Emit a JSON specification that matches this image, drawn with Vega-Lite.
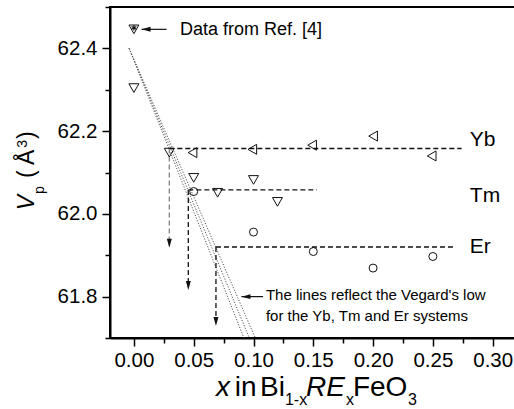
{
  "$schema": "https://vega.github.io/schema/vega-lite/v6.json",
  "width": 406,
  "height": 331,
  "autosize": "none",
  "padding": {"left": 110, "top": 7, "right": 0, "bottom": 71},
  "background": "white",
  "config": {
    "view": {"stroke": "black", "strokeWidth": 2},
    "text": {"font": "Liberation Sans", "color": "black"},
    "axis": {
      "grid": false,
      "title": null,
      "domainColor": "black",
      "domainWidth": 2,
      "tickColor": "black",
      "tickWidth": 1.5,
      "labelFont": "Liberation Sans",
      "labelFontSize": 20.5,
      "labelColor": "black",
      "labelOverlap": false,
      "labelFlush": false
    }
  },
  "datasets": {
    "pts": [
      {"series": "Tm", "x": 0.0, "y": 62.304},
      {"series": "Tm", "x": 0.0296, "y": 62.148},
      {"series": "Tm", "x": 0.05, "y": 62.087},
      {"series": "Tm", "x": 0.07, "y": 62.051},
      {"series": "Tm", "x": 0.10, "y": 62.082},
      {"series": "Tm", "x": 0.12, "y": 62.029},
      {"series": "Ref", "x": 0.0, "y": 62.446},
      {"series": "Yb", "x": 0.049, "y": 62.148},
      {"series": "Yb", "x": 0.099, "y": 62.156},
      {"series": "Yb", "x": 0.149, "y": 62.166},
      {"series": "Yb", "x": 0.20, "y": 62.188},
      {"series": "Yb", "x": 0.249, "y": 62.140},
      {"series": "Er", "x": 0.05, "y": 62.054},
      {"series": "Er", "x": 0.10, "y": 61.956},
      {"series": "Er", "x": 0.15, "y": 61.909},
      {"series": "Er", "x": 0.20, "y": 61.869},
      {"series": "Er", "x": 0.25, "y": 61.897}
    ]
  },
  "encoding": {
    "x": {
      "field": "x",
      "type": "quantitative",
      "scale": {"domain": [-0.02, 0.3195], "nice": false, "zero": false},
      "axis": {
        "values": [0, 0.025, 0.05, 0.075, 0.1, 0.125, 0.15, 0.175, 0.2, 0.225, 0.25, 0.275, 0.3],
        "labelExpr": "abs(datum.value*20 - round(datum.value*20)) < 0.01 ? format(datum.value, '.2f') : ''",
        "tickSize": {"condition": {"test": "abs(datum.value*20 - round(datum.value*20)) < 0.01", "value": 8}, "value": 5},
        "labelPadding": 4
      }
    },
    "y": {
      "field": "y",
      "type": "quantitative",
      "scale": {"domain": [61.7, 62.5], "nice": false, "zero": false},
      "axis": {
        "values": [61.7, 61.8, 61.9, 62.0, 62.1, 62.2, 62.3, 62.4, 62.5],
        "labelExpr": "abs(datum.value*5 - round(datum.value*5)) < 0.01 ? format(datum.value, '.1f') : ''",
        "tickSize": {"condition": {"test": "abs(datum.value*5 - round(datum.value*5)) < 0.01", "value": 8}, "value": 5},
        "labelPadding": 5
      }
    }
  },
  "layer": [
    {
      "data": {"values": [
        {"sys": "Yb", "x": -0.004, "y": 62.40}, {"sys": "Yb", "x": 0.092, "y": 61.70},
        {"sys": "Tm", "x": -0.004, "y": 62.40}, {"sys": "Tm", "x": 0.0965, "y": 61.70},
        {"sys": "Er", "x": -0.004, "y": 62.40}, {"sys": "Er", "x": 0.1015, "y": 61.70}
      ]},
      "mark": {"type": "line", "color": "#555555", "strokeWidth": 1, "strokeDash": [1.2, 1.6]},
      "encoding": {"detail": {"field": "sys"}}
    },
    {
      "data": {"values": [
        {"sys": "Yb", "x": 0.0296, "x2": 0.274, "y": 62.158},
        {"sys": "Tm", "x": 0.0455, "x2": 0.153, "y": 62.058},
        {"sys": "Er", "x": 0.0686, "x2": 0.267, "y": 61.92}
      ]},
      "mark": {"type": "rule", "color": "#111111", "strokeWidth": 1.3, "strokeDash": [5, 3]},
      "encoding": {"x2": {"field": "x2"}}
    },
    {
      "data": {"values": [
        {"sys": "Yb", "x": 0.0296, "y": 62.158, "y2": 61.925},
        {"sys": "Tm", "x": 0.0455, "y": 62.058, "y2": 61.823},
        {"sys": "Er", "x": 0.0686, "y": 61.92, "y2": 61.736}
      ]},
      "mark": {"type": "rule", "strokeWidth": 1.4, "strokeDash": [5, 3]},
      "encoding": {
        "y2": {"field": "y2"},
        "color": {"field": "sys", "type": "nominal", "scale": {"domain": ["Yb", "Tm", "Er"], "range": ["#8a8a8a", "#222222", "#222222"]}, "legend": null}
      }
    },
    {
      "data": {"values": [
        {"sys": "Yb", "x": 0.0296, "y": 61.918},
        {"sys": "Tm", "x": 0.0455, "y": 61.816},
        {"sys": "Er", "x": 0.0686, "y": 61.729}
      ]},
      "mark": {"type": "point", "shape": "M-0.55,-1L0.55,-1L0,1Z", "filled": true, "color": "#111111", "size": 81, "opacity": 1, "yOffset": -4.5}
    },
    {
      "data": {"values": [
        {"x": 0.0064, "x2": 0.0273, "y": 62.446},
        {"x": 0.0899, "x2": 0.108, "y": 61.8}
      ]},
      "mark": {"type": "rule", "color": "#111111", "strokeWidth": 1.2},
      "encoding": {"x2": {"field": "x2"}}
    },
    {
      "data": {"values": [
        {"x": 0.0064, "y": 62.446},
        {"x": 0.0899, "y": 61.8}
      ]},
      "mark": {"type": "point", "shape": "M1,-0.55L1,0.55L-1,0Z", "filled": true, "color": "#111111", "size": 81, "opacity": 1, "xOffset": 4.5}
    },
    {
      "data": {"name": "pts"},
      "transform": [{"filter": "datum.series === 'Tm' || datum.series === 'Ref'"}],
      "mark": {"type": "point", "shape": "triangle-down", "filled": false, "color": "#111111", "strokeWidth": 1, "size": 100, "opacity": 1}
    },
    {
      "data": {"name": "pts"},
      "transform": [{"filter": "datum.series === 'Yb'"}],
      "mark": {"type": "point", "shape": "triangle-left", "filled": false, "color": "#111111", "strokeWidth": 1, "size": 100, "opacity": 1}
    },
    {
      "data": {"name": "pts"},
      "transform": [{"filter": "datum.series === 'Er'"}],
      "mark": {"type": "point", "shape": "circle", "filled": false, "color": "#111111", "strokeWidth": 1, "size": 64, "opacity": 1}
    },
    {
      "data": {"name": "pts"},
      "transform": [{"filter": "datum.series === 'Ref'"}],
      "mark": {"type": "point", "shape": "M0,-1L0,1M-0.87,-0.5L0.87,0.5M-0.87,0.5L0.87,-0.5", "filled": false, "color": "#111111", "strokeWidth": 1.2, "size": 30, "opacity": 1, "yOffset": -1.5}
    },
    {
      "data": {"values": [{"label": "Data from Ref. [4]", "x": 0.0385, "y": 62.432}]},
      "mark": {"type": "text", "fontSize": 18, "align": "left", "baseline": "alphabetic"},
      "encoding": {"text": {"field": "label"}}
    },
    {
      "data": {"values": [
        {"label": "The lines reflect the Vegard's low", "x": 0.1104, "y": 61.792},
        {"label": "for the Yb, Tm and Er systems", "x": 0.1104, "y": 61.740}
      ]},
      "mark": {"type": "text", "fontSize": 15, "align": "left", "baseline": "alphabetic"},
      "encoding": {"text": {"field": "label"}}
    },
    {
      "data": {"values": [
        {"label": "Yb", "x": 0.2809, "y": 62.165},
        {"label": "Tm", "x": 0.2809, "y": 62.029},
        {"label": "Er", "x": 0.2809, "y": 61.905}
      ]},
      "mark": {"type": "text", "fontSize": 21, "align": "left", "baseline": "alphabetic"},
      "encoding": {"text": {"field": "label"}}
    },
    {
      "data": {"values": [
        {"label": "x", "x": 0.0686, "y": 61.560},
        {"label": "RE", "x": 0.144, "y": 61.560}
      ]},
      "mark": {"type": "text", "fontSize": 28, "fontStyle": "italic", "align": "left", "baseline": "alphabetic"},
      "encoding": {"text": {"field": "label"}}
    },
    {
      "data": {"values": [
        {"label": "in", "x": 0.0844, "y": 61.560},
        {"label": "Bi", "x": 0.1054, "y": 61.560},
        {"label": "FeO", "x": 0.1831, "y": 61.560}
      ]},
      "mark": {"type": "text", "fontSize": 28, "align": "left", "baseline": "alphabetic"},
      "encoding": {"text": {"field": "label"}}
    },
    {
      "data": {"values": [
        {"label": "1-x", "x": 0.1263, "y": 61.538},
        {"label": "x", "x": 0.1773, "y": 61.538},
        {"label": "3", "x": 0.2291, "y": 61.538}
      ]},
      "mark": {"type": "text", "fontSize": 16, "align": "left", "baseline": "alphabetic"},
      "encoding": {"text": {"field": "label"}}
    },
    {
      "data": {"values": [{"label": "V", "x": -0.0836, "y": 62.009}]},
      "mark": {"type": "text", "fontSize": 23, "fontStyle": "italic", "angle": 270, "align": "left", "baseline": "alphabetic"},
      "encoding": {"text": {"field": "label"}}
    },
    {
      "data": {"values": [
        {"label": "(", "x": -0.0836, "y": 62.087},
        {"label": "Å", "x": -0.0836, "y": 62.118},
        {"label": ")", "x": -0.0836, "y": 62.181}
      ]},
      "mark": {"type": "text", "fontSize": 23, "angle": 270, "align": "left", "baseline": "alphabetic"},
      "encoding": {"text": {"field": "label"}}
    },
    {
      "data": {"values": [
        {"label": "p", "x": -0.0753, "y": 62.048},
        {"label": "3", "x": -0.0895, "y": 62.160}
      ]},
      "mark": {"type": "text", "fontSize": 14, "angle": 270, "align": "left", "baseline": "alphabetic"},
      "encoding": {"text": {"field": "label"}}
    }
  ]
}
